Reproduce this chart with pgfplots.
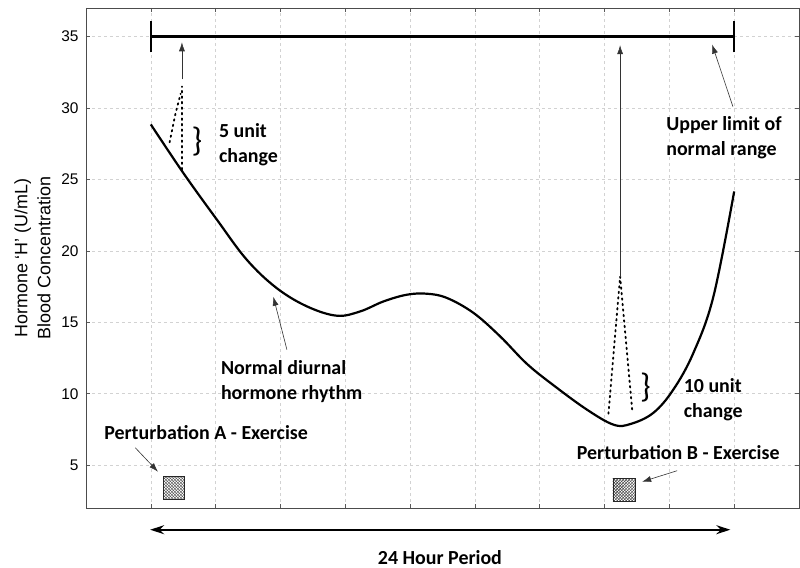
\documentclass[border=0pt]{standalone}
\usepackage{fontspec}
\setmainfont{Carlito}
\newfontfamily\arialf{Liberation Sans}
\usepackage{pgfplots}
\pgfplotsset{compat=1.18}
\usetikzlibrary{arrows.meta,patterns}
\tikzset{
  annarrow/.style={-{Latex[length=9bp,width=6bp]}, line width=0.6bp, gray!40!black},
  dotl/.style={line width=1.8bp, dash pattern=on 1.5bp off 4bp, line cap=round},
  ann/.style={font=\bfseries\fontsize{20}{25}\selectfont, inner sep=0pt},
}
\begin{document}
\begin{tikzpicture}
\begin{axis}[
  scale only axis, width=713bp, height=500bp,
  xmin=0, xmax=11, ymin=2, ymax=37,
  xtick={0,...,11}, xticklabels={},
  ytick={5,10,...,35},
  tick align=inside, major tick length=4bp,
  every tick/.style={gray!70!black, line width=0.6bp},
  axis line style={gray!60!black, line width=0.8bp},
  grid=major,
  major grid style={gray!35, dash pattern=on 3bp off 3bp, line width=0.6bp},
  tick label style={font=\arialf\fontsize{15.5}{18}\selectfont},
  /pgf/number format/assume math mode=true,
  yticklabel style={xshift=-4bp},
  ylabel={\arialf\fontsize{18}{23}\selectfont Hormone ‘H’ (U/mL)\\\arialf\fontsize{18}{23}\selectfont Blood Concentration},
  ylabel style={align=center, font=\arialf\fontsize{18}{23}\selectfont, yshift=4bp},
  clip=false,
]
% normal diurnal rhythm
\addplot[black, line width=2.2bp, smooth, tension=0.6] coordinates {
(1.00,28.85) (1.50,25.46) (2.02,22.18) (2.48,19.38) (2.94,17.40) (3.41,16.11)
(3.87,15.46) (4.23,15.76) (4.59,16.46) (4.95,16.93) (5.26,17.00) (5.57,16.70)
(5.98,15.65) (6.39,14.01) (6.80,12.10) (7.21,10.60) (7.73,8.88) (8.14,7.83)
(8.40,7.88) (8.75,8.65) (9.06,10.28) (9.37,12.85) (9.68,16.81) (10.0,24.16)};
% upper limit of normal range
\addplot[black, line width=2.2bp] coordinates {(1,35) (10,35)};
\addplot[black, line width=2.4bp] coordinates {(1,33.9) (1,36.1)};
\addplot[black, line width=2.4bp] coordinates {(10,33.9) (10,36.1)};
% perturbation A spike
\addplot[dotl] coordinates {(1.48,25.7) (1.48,31.5)};
\addplot[dotl] coordinates {(1.29,27.6) (1.38,29.6) (1.46,31.0)};
% perturbation B spike
\addplot[dotl] coordinates {(8.06,8.6) (8.24,18.2) (8.43,8.7)};
% exercise boxes
\addplot[draw=gray!30!black, line width=0.6bp, pattern=crosshatch, pattern color=gray!50!black] coordinates {(1.19,2.58) (1.51,2.58) (1.51,4.19) (1.19,4.19)} -- cycle;
\addplot[draw=gray!30!black, line width=0.6bp, pattern=crosshatch, pattern color=gray!50!black] coordinates {(8.13,2.44) (8.47,2.44) (8.47,4.05) (8.13,4.05)} -- cycle;
% arrows
\draw[annarrow] (axis cs:1.48,32.0) -- (axis cs:1.48,34.6);
\draw[annarrow] (axis cs:8.24,18.2) -- (axis cs:8.24,34.4);
\draw[annarrow] (axis cs:3.10,13.08) -- (axis cs:2.89,16.79);
\draw[annarrow] (axis cs:9.98,30.1) -- (axis cs:9.66,34.44);
\draw[annarrow] (axis cs:0.76,6.22) -- (axis cs:1.11,4.54);
\draw[annarrow] (axis cs:9.12,4.61) -- (axis cs:8.58,3.84);
% braces
\node[ann, font=\fontsize{34}{34}\selectfont] at (axis cs:1.71,27.65) {\}};
\node[ann, font=\fontsize{34}{34}\selectfont] at (axis cs:8.63,10.42) {\}};
% texts
\node[ann, anchor=west, align=left] at (axis cs:2.05,27.44) {5 unit\\change};
\node[ann, anchor=west, align=left] at (axis cs:9.22,9.58) {10 unit\\change};
\node[ann, anchor=west, align=left] at (axis cs:8.95,27.93) {Upper limit of\\normal range};
\node[ann, anchor=west, align=left] at (axis cs:2.08,10.84) {Normal diurnal\\hormone rhythm};
\node[ann, anchor=west] at (axis cs:0.28,7.27) {Perturbation A - Exercise};
\node[ann, anchor=west] at (axis cs:7.57,5.87) {Perturbation B - Exercise};
% 24 hour period
\draw[{Stealth[length=14bp,width=9bp]}-{Stealth[length=14bp,width=9bp]}, line width=1.6bp] (axis cs:0.99,0.48) -- (axis cs:9.94,0.48);
\node[ann] at (axis cs:5.46,-1.48) {24 Hour Period};
\end{axis}
\pgfresetboundingbox
\useasboundingbox (-86bp,-60bp) rectangle (714bp,508bp);
\end{tikzpicture}
\end{document}
